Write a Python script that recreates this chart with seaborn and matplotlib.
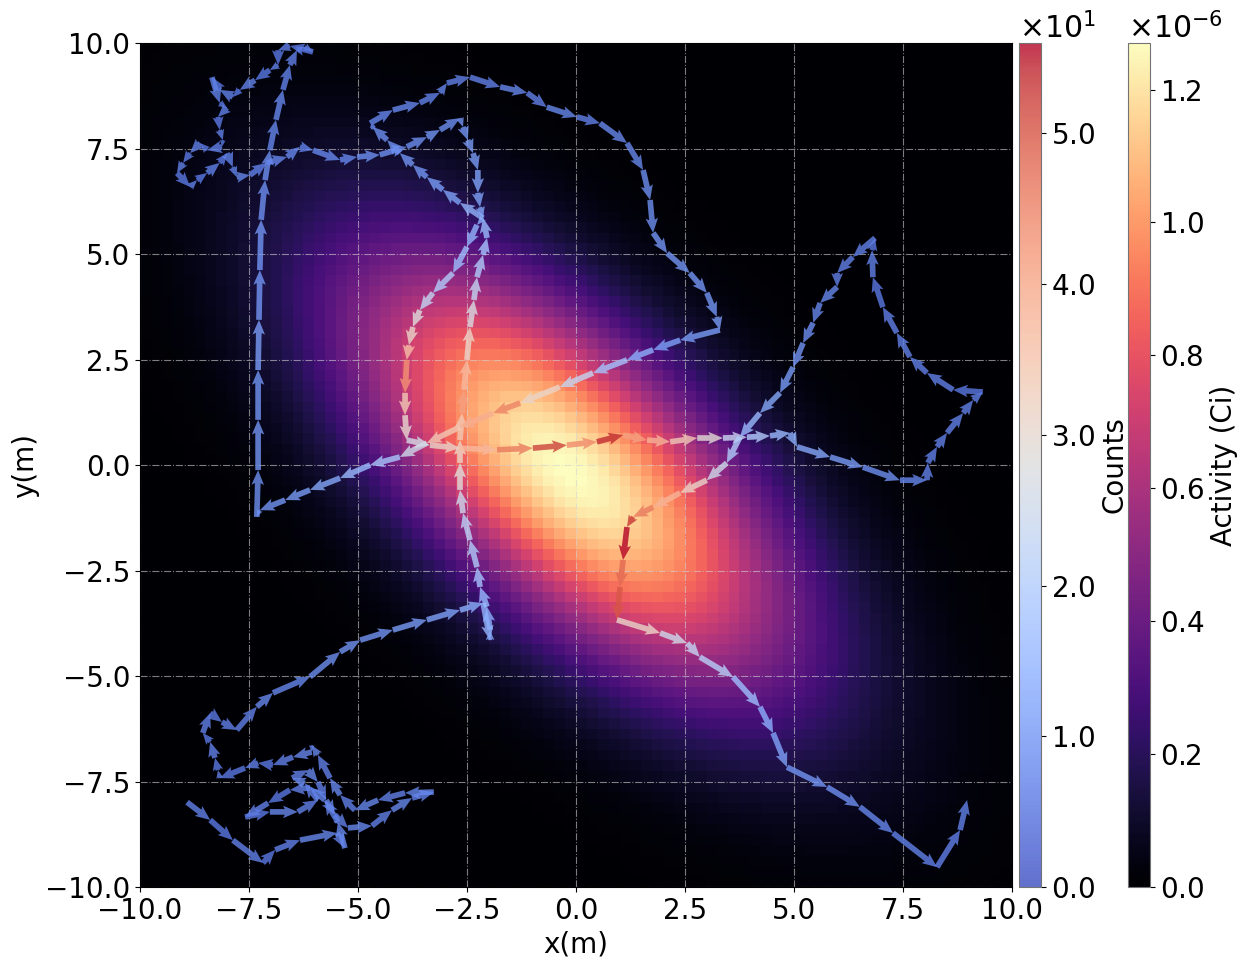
import numpy as np
import pandas as pd
import matplotlib
matplotlib.use("Agg")
import matplotlib.pyplot as plt
import seaborn as sns
from matplotlib.ticker import ScalarFormatter

# ---------------- data ----------------
# radiation source model used for the activity map (Ci)
SOURCE_X, SOURCE_Y = -0.15, -0.15
PEAK_ACTIVITY = 1.27e-6
SIGMA_MAJOR, SIGMA_MINOR = 4.4, 2.0
MAJOR_AXIS_DEG = -45.0
GRID_N = 80
EXTENT = (-10.0, 10.0)

# measured trajectory (m) and counts recorded at each point
PATH_X = [
    -8.92, -8.39, -7.87, -7.18, -6.90, -6.33, -5.48, -5.30, -5.46, -5.76, -6.10, -6.56, -7.06, -7.59,
    -7.02, -6.38, -5.92, -6.22, -6.51, -6.15, -5.92, -5.73, -5.53, -5.23, -4.68, -4.22, -3.76, -3.26,
    -3.92, -4.54, -5.07, -5.41, -5.64, -5.92, -6.06, -6.06, -6.49, -6.95, -7.29, -7.59, -8.17, -8.21,
    -8.28, -8.39, -8.56, -8.39, -8.12, -7.78,
    -7.32, -6.95, -6.10, -5.41, -4.95, -4.20, -3.42, -2.66, -2.13, -1.97,
    -1.97, -2.04, -2.20, -2.27, -2.43, -2.59, -2.66, -2.66, -2.66, -2.61, -2.57, -2.50, -2.43, -2.34,
    -2.27, -2.13, -2.04, -2.13,
    -2.66, -3.05, -3.42, -3.74, -4.04, -4.33, -4.66, -4.72,
    -4.20, -3.58, -3.12, -2.96, -2.43, -1.74, -1.12, -0.67, 0.02, 0.55, 1.17, 1.54, 1.70, 1.77, 2.09,
    2.61, 3.00, 3.23, 3.30,
    2.39, 1.77, 1.17, 0.39, -0.37, -1.28, -1.90, -2.66, -3.42, -4.04, -4.72, -5.41, -6.10, -6.67,
    -7.25, -7.32,
    -7.29, -7.29, -7.29, -7.27, -7.25, -7.22, -7.13, -7.02, -6.88, -6.72, -6.56, -6.40,
    -6.22, -6.03, -6.56, -6.83, -6.83, -7.02, -7.36, -7.71, -7.87, -8.17, -8.35, -8.17, -8.00, -8.21,
    -8.17, -8.10, -8.12, -8.46, -8.62, -8.85, -9.01, -9.15, -8.85, -8.69, -8.46, -8.17, -8.00, -7.87,
    -7.78, -7.48, -7.09, -6.63, -6.33, -6.03, -5.41, -5.02, -4.50, -3.88, -3.42, -3.12, -2.66,
    -2.59, -2.48, -2.36, -2.25, -2.25, -2.20, -2.13,
    -2.27, -2.50, -2.82, -3.28, -3.58, -3.74, -3.83, -3.88, -3.92, -3.92, -3.88,
    -3.35, -2.66, -1.81, -0.99, -0.21, 0.48, 1.08, 1.63, 2.16, 2.78, 3.37, 3.92, 4.45, 4.91,
    5.07, 5.83, 6.58, 7.43, 8.05,
    8.07, 8.28, 8.51, 8.88, 9.11, 9.33,
    8.65, 8.05, 7.66, 7.36, 7.04, 6.81, 6.79, 6.86,
    6.35, 5.99, 5.99, 5.60, 5.44, 5.21, 4.98, 4.68, 4.22, 3.76, 3.46, 3.00, 2.39, 1.77, 1.31,
    1.17, 1.08, 1.01, 0.94,
    1.93, 2.55, 2.84, 3.60, 4.22, 4.52, 4.84, 5.76, 6.51, 7.27, 8.28,
    8.81, 8.97,
]
PATH_Y = [
    -7.99, -8.41, -8.89, -9.43, -9.12, -8.89, -8.72, -9.08, -8.46, -7.94, -7.65, -7.70, -8.01, -8.34,
    -8.22, -8.22, -7.94, -7.54, -7.42, -7.23, -7.51, -7.94, -8.29, -8.60, -8.55, -8.18, -7.89, -7.75,
    -7.77, -7.94, -8.18, -7.82, -7.42, -6.87, -6.64, -6.80, -6.92, -7.11, -7.06, -7.18, -7.42, -7.23,
    -6.94, -6.56, -6.35, -5.88, -6.09, -6.28,
    -5.73, -5.40, -5.02, -4.43, -4.15, -3.91, -3.67, -3.44, -3.27, -4.15,
    -3.91, -3.36, -2.89, -2.42, -1.78, -1.14, -0.59, 0.05, 0.59, 1.23, 1.78, 2.49, 3.27, 3.91,
    4.45, 4.98, 5.38, 5.85,
    6.21, 6.52, 6.82, 7.11, 7.39, 7.70, 8.01, 8.10,
    8.41, 8.58, 8.82, 9.05, 9.19, 8.96, 8.82, 8.48, 8.25, 8.10, 7.63, 6.99, 6.28, 5.50, 5.02,
    4.55, 4.08, 3.51, 3.20,
    2.96, 2.73, 2.49, 2.18, 1.85, 1.47, 1.23, 0.90, 0.52, 0.19, 0.00, -0.31, -0.59, -0.83,
    -1.07, -1.23,
    -0.12, 1.07, 2.25, 3.44, 4.62, 5.81, 6.75, 7.46, 8.18, 8.89, 9.48, 9.83,
    9.91, 9.79, 9.93, 9.83, 9.48, 9.36, 9.12, 8.89, 8.72, 8.89, 9.19, 8.58, 8.46, 8.25,
    7.94, 7.70, 7.54, 7.46, 7.63, 7.39, 7.16, 6.92, 6.59, 6.75, 6.92, 7.16, 7.39, 7.06,
    6.82, 6.87, 7.16, 7.30, 7.54, 7.46, 7.23, 7.30, 7.35, 7.54, 7.77, 7.94, 8.22,
    8.01, 7.70, 7.39, 6.99, 6.45, 6.11, 5.85,
    5.69, 5.17, 4.55, 4.08, 3.67, 3.27, 2.84, 2.49, 1.71, 1.18, 0.59,
    0.47, 0.40, 0.36, 0.40, 0.47, 0.55, 0.71, 0.59, 0.55, 0.64, 0.64, 0.66, 0.69, 0.76,
    0.43, 0.19, -0.05, -0.36, -0.36,
    0.05, 0.43, 0.76, 1.23, 1.54, 1.73,
    1.78, 2.18, 2.56, 3.13, 3.74, 4.45, 5.09, 5.38,
    4.93, 4.55, 4.22, 3.84, 3.37, 2.89, 2.32, 1.71, 1.23, 0.66, 0.05, -0.36, -0.66, -1.00, -1.23,
    -1.47, -2.25, -2.89, -3.67,
    -3.98, -4.22, -4.55, -5.02, -5.73, -6.35, -7.16, -7.63, -8.10, -8.72, -9.53,
    -8.65, -7.94,
]
COUNTS = [
    7, 6, 7, 6, 7, 8, 7, 8, 7, 8, 7, 6, 7, 6,
    8, 7, 7, 8, 7, 8, 7, 8, 7, 8, 7, 8, 7, 8,
    7, 8, 7, 8, 7, 8, 7, 8, 7, 6, 7, 6, 7, 6,
    7, 6, 7, 6, 7, 7,
    8, 8, 9, 10, 10, 11, 12, 14, 15, 13,
    14, 16, 18, 20, 22, 25, 28, 31, 34, 41, 37, 31, 27, 23,
    20, 18, 16, 15,
    12, 11, 10, 10, 9, 9, 8, 8,
    8, 7, 8, 7, 7, 8, 7, 8, 7, 8, 8, 9, 9, 10, 10,
    10, 10, 11, 11,
    12, 14, 18, 23, 31, 45, 39, 34, 25, 19, 16, 13, 11, 10,
    9, 9,
    10, 10, 11, 10, 10, 9, 9, 8, 8, 7, 7, 7,
    7, 6, 7, 6, 7, 6, 7, 6, 7, 6, 7, 6, 7, 6,
    7, 6, 7, 6, 7, 6, 7, 6, 7, 6, 7, 6, 7, 7,
    8, 7, 8, 8, 7, 8, 8, 9, 9, 9, 10, 9, 10,
    10, 11, 11, 12, 12, 13, 14,
    15, 17, 20, 23, 28, 31, 36, 43, 34, 30, 26,
    31, 37, 46, 52, 44, 54, 41, 38, 34, 29, 24, 20, 16, 14,
    13, 11, 9, 8, 7,
    7, 7, 7, 7, 7, 6,
    7, 7, 7, 7, 6, 7, 6, 7,
    7, 7, 8, 8, 9, 10, 11, 13, 16, 20, 25, 31, 38, 46, 53,
    56, 48, 50, 31,
    25, 23, 21, 17, 14, 12, 10, 9, 8, 7, 7,
    7, 7,
]

X_TICKS = [-10.0, -7.5, -5.0, -2.5, 0.0, 2.5, 5.0, 7.5, 10.0]
COUNT_TICKS = [0, 10, 20, 30, 40, 50]
ACTIVITY_TICKS = [0.0, 0.2e-6, 0.4e-6, 0.6e-6, 0.8e-6, 1.0e-6, 1.2e-6]

# ---------------- activity field on grid ----------------
edges = np.linspace(EXTENT[0], EXTENT[1], GRID_N + 1)
centers = 0.5 * (edges[:-1] + edges[1:])
GX, GY = np.meshgrid(centers, centers)
a = np.deg2rad(MAJOR_AXIS_DEG)
dx, dy = GX - SOURCE_X, GY - SOURCE_Y
u = dx * np.cos(a) + dy * np.sin(a)
v = -dx * np.sin(a) + dy * np.cos(a)
field = PEAK_ACTIVITY * np.exp(-0.5 * (u ** 2 / SIGMA_MAJOR ** 2 + v ** 2 / SIGMA_MINOR ** 2))
field_df = pd.DataFrame(field[::-1], index=centers[::-1], columns=centers)


class OneDecimal(ScalarFormatter):
    def _set_format(self):
        self.format = "%1.1f"
        if self._useMathText:
            self.format = r"$\mathdefault{%s}$" % self.format


FS = 20
fig = plt.figure(figsize=(12.44, 9.58), dpi=100)
rect = [0.1125, 0.0741, 0.7010, 0.8810]
ax_bg = fig.add_axes(rect)
cax_c = fig.add_axes([0.8191, 0.0741, 0.0180, 0.8810])
cax_a = fig.add_axes([0.9070, 0.0741, 0.0175, 0.8810])
ax = fig.add_axes(rect)

sns.heatmap(field_df, ax=ax_bg, cmap="magma", vmin=0, vmax=PEAK_ACTIVITY,
            cbar_ax=cax_a, xticklabels=False, yticklabels=False)
ax_bg.set_axis_off()
cb_a = ax_bg.collections[0].colorbar

ax.patch.set_visible(False)
ax.set_xlim(*EXTENT)
ax.set_ylim(*EXTENT)
ax.set_xticks(X_TICKS)
ax.set_yticks(X_TICKS)
ax.tick_params(labelsize=FS)
ax.grid(True, linestyle="-.", color="lightgray", alpha=0.6, linewidth=0.8)
ax.set_axisbelow(True)

px = np.asarray(PATH_X)
py = np.asarray(PATH_Y)
pc = np.asarray(COUNTS, dtype=float)
q = ax.quiver(px[:-1], py[:-1], np.diff(px), np.diff(py), pc[:-1], cmap="coolwarm",
              angles="xy", scale_units="xy", scale=1, width=0.0065,
              headwidth=2.2, headlength=2.6, headaxislength=2.3, alpha=0.8, zorder=3)
q.set_clim(0, pc.max())
ax.set_xlabel("x(m)", fontsize=FS)
ax.set_ylabel("y(m)", fontsize=FS)

cb_c = fig.colorbar(q, cax=cax_c)
cb_c.set_label("Counts", fontsize=FS)
cb_a.set_label("Activity (Ci)", fontsize=FS)
for cb, ticks in ((cb_c, COUNT_TICKS), (cb_a, ACTIVITY_TICKS)):
    cb.set_ticks(ticks)
    fmt = OneDecimal(useMathText=True)
    fmt.set_powerlimits((0, 0))
    cb.ax.yaxis.set_major_formatter(fmt)
    cb.ax.tick_params(labelsize=FS)
    cb.ax.yaxis.set_offset_position("left")
    cb.ax.yaxis.get_offset_text().set_fontsize(21.5)
    cb.outline.set_linewidth(0.8)
    cb.outline.set_edgecolor("0.45")

fig.savefig("out.png", dpi=100)
